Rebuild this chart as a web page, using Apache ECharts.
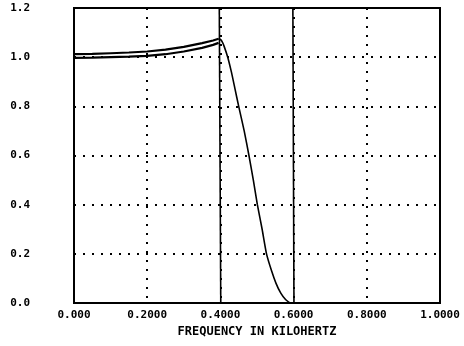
<!DOCTYPE html>
<html>
<head>
<meta charset="utf-8">
<script src="https://cdn.jsdelivr.net/npm/echarts@6/dist/echarts.min.js"></script>
<style>
  html, body { margin: 0; padding: 0; background: #fff; }
  #chart { width: 464px; height: 346px; }
</style>
</head>
<body>
<div id="chart"></div>
<script>
// passband ripple, drawn as a double trace
const passFreq = [0, 0.05, 0.1, 0.15, 0.2, 0.25, 0.3, 0.35, 0.38, 0.395]
const passUpper = [1.012, 1.013, 1.016, 1.019, 1.023, 1.031, 1.042, 1.057, 1.068, 1.075]
const passLower = [0.997, 0.998, 1.0, 1.002, 1.005, 1.012, 1.023, 1.038, 1.05, 1.058]

// roll-off from the peak down to zero
const rollFreq = [0.395, 0.40, 0.405, 0.41, 0.42, 0.43, 0.44, 0.45, 0.465, 0.478, 0.49, 0.501, 0.514, 0.526, 0.54, 0.552, 0.565, 0.578, 0.59]
const rollGain = [1.075, 1.072, 1.062, 1.045, 1.0, 0.94, 0.87, 0.80, 0.70, 0.60, 0.50, 0.40, 0.30, 0.20, 0.13, 0.08, 0.04, 0.014, 0.0]

// band edge markers (solid verticals)
const edge1 = [[0.397, 1.2], [0.401, 0]]
const edge2 = [[0.598, 1.2], [0.601, 0]]

const xTicks = ['0.000', '0.2000', '0.4000', '0.6000', '0.8000', '1.0000']
const yTicks = ['0.0', '0.2', '0.4', '0.6', '0.8', '1.0', '1.2']

const xTitle = 'FREQUENCY IN KILOHERTZ'

function zip(xs, ys) {
    return xs.map((x, i) => [x, ys[i]])
}

const chart = echarts.init(document.getElementById('chart'))

const lbl = {
    color: '#000',
    fontFamily: 'DejaVu Sans Mono',
    fontWeight: 'bold',
    fontSize: 11,
}

const dotted = {
    color: '#000',
    width: 2,
    type: [2, 7],
}

const lineBase = {
    type: 'line',
    symbol: 'none',
    silent: true,
    animation: false,
    lineStyle: { color: '#000', width: 1.6 },
}

const options = {
    animation: false,
    backgroundColor: '#fff',
    grid: {
        left: 74,
        right: 24,
        top: 8,
        bottom: 43,
        show: true,
        borderColor: '#000',
        borderWidth: 2,
        backgroundColor: 'transparent',
    },
    xAxis: {
        type: 'value',
        min: 0,
        max: 1,
        interval: 0.2,
        name: xTitle,
        nameLocation: 'middle',
        nameGap: 11,
        nameTextStyle: {
            color: '#000',
            fontFamily: 'DejaVu Sans Mono',
            fontWeight: 'bold',
            fontSize: 12,
        },
        axisLine: { show: false },
        axisTick: { show: false },
        axisLabel: {
            ...lbl,
            margin: 7,
            formatter: (v) => xTicks[Math.round(v / 0.2)],
        },
        splitLine: { show: true, lineStyle: dotted },
    },
    yAxis: {
        type: 'value',
        min: 0,
        max: 1.2,
        interval: 0.2,
        axisLine: { show: false },
        axisTick: { show: false },
        axisLabel: {
            ...lbl,
            margin: 44,
            formatter: (v) => yTicks[Math.round(v / 0.2)],
        },
        splitLine: { show: true, lineStyle: dotted },
    },
    series: [
        { ...lineBase, data: edge1, lineStyle: { color: '#000', width: 1.6 } },
        { ...lineBase, data: edge2, lineStyle: { color: '#000', width: 1.6 } },
        { ...lineBase, data: zip(passFreq, passUpper), lineStyle: { color: '#000', width: 2.2 } },
        { ...lineBase, data: zip(passFreq, passLower), lineStyle: { color: '#000', width: 2.2 } },
        { ...lineBase, data: zip(rollFreq, rollGain), smooth: 0.2 },
    ],
}

chart.setOption(options)
</script>
</body>
</html>
